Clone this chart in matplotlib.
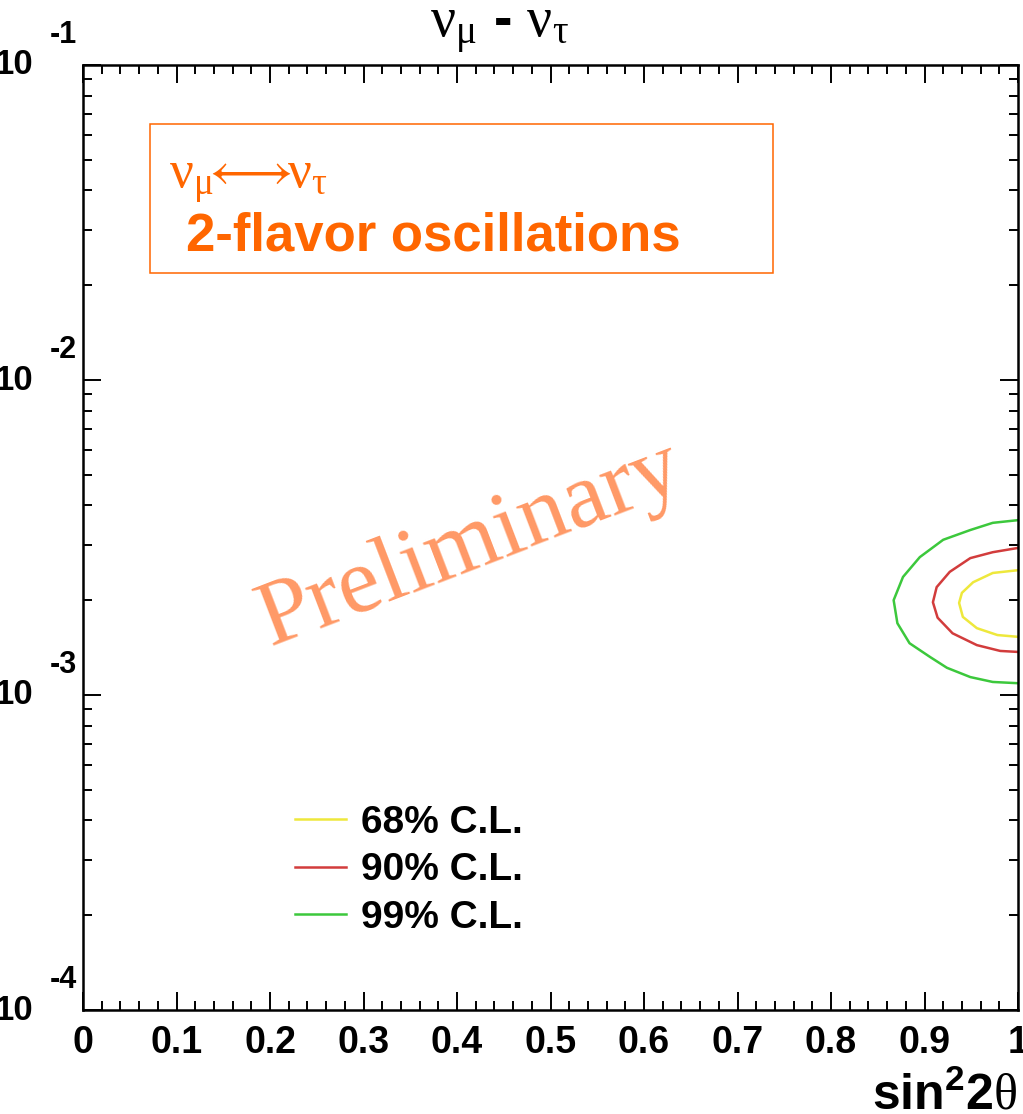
import matplotlib
matplotlib.use("Agg")
import matplotlib.pyplot as plt
from matplotlib.lines import Line2D
from matplotlib.patches import Rectangle
from matplotlib.ticker import MultipleLocator, LogLocator, NullFormatter

# Contours (sin^2 2theta, delta m^2 en eV^2)
c68_x = [1.0, 0.973, 0.952, 0.940, 0.937, 0.941, 0.956, 0.978, 1.0]
c68_y = [2.49e-3, 2.44e-3, 2.28e-3, 2.11e-3, 1.96e-3, 1.77e-3, 1.63e-3, 1.55e-3, 1.53e-3]

c90_x = [1.0, 0.973, 0.949, 0.927, 0.913, 0.909, 0.914, 0.930, 0.956, 0.981, 1.0]
c90_y = [2.93e-3, 2.84e-3, 2.72e-3, 2.46e-3, 2.20e-3, 1.97e-3, 1.76e-3, 1.57e-3, 1.44e-3, 1.38e-3, 1.37e-3]

c99_x = [1.0, 0.973, 0.949, 0.920, 0.895, 0.877, 0.867, 0.871, 0.884, 0.906, 0.924, 0.949, 0.973, 1.0]
c99_y = [3.59e-3, 3.52e-3, 3.34e-3, 3.11e-3, 2.74e-3, 2.37e-3, 2.00e-3, 1.69e-3, 1.46e-3, 1.32e-3,
         1.22e-3, 1.14e-3, 1.10e-3, 1.09e-3]

niveaux = ["68% C.L.", "90% C.L.", "99% C.L."]
couleurs = ["#eee83c", "#d23c3c", "#3cc83c"]
decades = [-4, -3, -2, -1]

plt.rcParams['font.family'] = ['Liberation Sans', 'DejaVu Sans']
plt.rcParams['mathtext.fontset'] = 'custom'
plt.rcParams['mathtext.rm'] = 'Liberation Serif'
plt.rcParams['mathtext.it'] = 'Liberation Serif:italic'
plt.rcParams['mathtext.bf'] = 'Liberation Sans:bold'

W, H = 1023, 1114
fig = plt.figure(figsize=(W / 100, H / 100), dpi=100)
ax = fig.add_axes([83 / W, 1 - 1010 / H, (1018 - 83) / W, (1010 - 65) / H])

# Tracé des contours
for xs, ys, lab, col in zip([c68_x, c90_x, c99_x], [c68_y, c90_y, c99_y], niveaux, couleurs):
    ax.plot(xs, ys, color=col, linewidth=1.8, label=lab)

ax.set_yscale('log')
ax.set_xlim(0, 1)
ax.set_ylim(1e-4, 1e-1)

# Axes façon ROOT
for s in ax.spines.values():
    s.set_linewidth(1.8)
ax.xaxis.set_major_locator(MultipleLocator(0.1))
ax.xaxis.set_minor_locator(MultipleLocator(0.02))
ax.yaxis.set_major_locator(LogLocator(base=10))
ax.yaxis.set_minor_locator(LogLocator(base=10, subs=range(2, 10)))
ax.yaxis.set_minor_formatter(NullFormatter())
ax.tick_params(which='both', direction='in', top=True, right=True, width=1.4)
ax.tick_params(which='major', length=13)
ax.tick_params(which='minor', length=6.5)
ax.tick_params(axis='x', labelsize=27, pad=11)
ax.set_xticks([i / 10 for i in range(11)])
ax.set_xticklabels(["0", "0.1", "0.2", "0.3", "0.4", "0.5", "0.6", "0.7", "0.8", "0.9", "1"], fontweight='bold')
ax.set_yticklabels([])

# Étiquettes de l'axe Y (10 et exposant décalé)
for d in decades:
    ax.text(-0.0535, 10.0 ** d, "10", transform=ax.get_yaxis_transform(), ha='right', va='center',
            fontsize=25, fontweight='bold', clip_on=False)
    ax.annotate(str(d), xy=(-0.0353, 10.0 ** d), xycoords=ax.get_yaxis_transform(),
                xytext=(0, 30), textcoords='offset pixels', ha='left', va='center',
                fontsize=22, fontweight='bold', annotation_clip=False)

# Titre et axe X
fig.text(500 / W, 1 - 37 / H, r'$\mathrm{\nu_{\mu}}$ - $\mathrm{\nu_{\tau}}$', fontsize=40,
         ha='center', va='baseline', fontweight='bold')
fig.text(1017 / W, 1 - 1110 / H, r'$\mathbf{sin^{2}2}\mathrm{\theta}$', fontsize=36,
         ha='right', va='baseline')

# Cadre orange
ax.add_patch(Rectangle((0.0717, 0.7799), 0.738 - 0.0717, 0.9376 - 0.7799, transform=ax.transAxes,
                       fill=False, edgecolor='#ff6600', linewidth=1.1))
fig.text(169 / W, 1 - 188 / H, r'$\mathrm{\nu_{\mu}}\!\!\longleftrightarrow\!\!\mathrm{\nu_{\tau}}$',
         fontsize=38, color='#ff6600', ha='left', va='baseline')
fig.text(186 / W, 1 - 250 / H, "2-flavor oscillations", fontsize=38, fontweight='bold',
         color='#ff6600', ha='left', va='baseline')

# Filigrane
fig.text(470 / W, 1 - 545 / H, "Preliminary", fontsize=68, family='Liberation Serif',
         color='#ff9966', rotation=21, ha='center', va='center', rotation_mode='anchor')

# Légende
handles = [Line2D([], [], color=c, linewidth=1.8) for c in couleurs]
leg = ax.legend(handles, niveaux, loc='upper left', bbox_to_anchor=(295 / W, 1 - 805 / H),
                bbox_transform=fig.transFigure, frameon=False, borderpad=0, borderaxespad=0,
                handlelength=1.3, handletextpad=0.4, labelspacing=0.29,
                prop={'size': 28, 'weight': 'bold'})

fig.savefig("out.png", dpi=100)
